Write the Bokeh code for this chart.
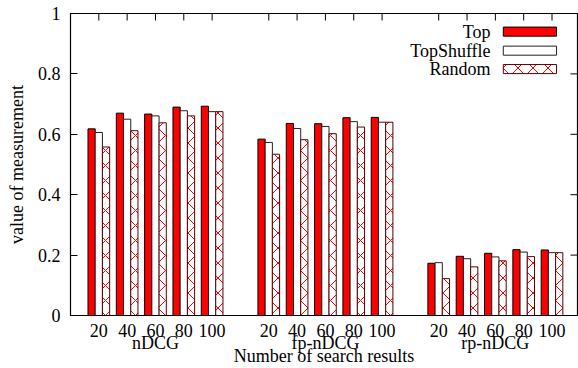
import math
from bokeh.plotting import figure
from bokeh.models import (LinearAxis, FixedTicker, CustomJSTickFormatter, Range1d,
                          ColumnDataSource)
from bokeh.transform import dodge
from bokeh.embed import file_html
from bokeh.resources import INLINE
from bokeh.core.properties import value

# ---------------- data ----------------
metrics = ["nDCG", "fp-nDCG", "rp-nDCG"]
n_results = ["20", "40", "60", "80", "100"]
series = ["Top", "TopShuffle", "Random"]

top = [0.618, 0.670, 0.667, 0.690, 0.693,
       0.584, 0.636, 0.635, 0.655, 0.656,
       0.173, 0.196, 0.206, 0.218, 0.217]
top_shuffle = [0.606, 0.650, 0.661, 0.678, 0.675,
               0.573, 0.619, 0.626, 0.642, 0.640,
               0.175, 0.188, 0.194, 0.210, 0.208]
random_vals = [0.558, 0.612, 0.638, 0.661, 0.675,
               0.534, 0.582, 0.602, 0.624, 0.640,
               0.122, 0.161, 0.181, 0.195, 0.208]

y_ticks = [0, 0.2, 0.4, 0.6, 0.8, 1]
x_title = "Number of search results"
y_title = "value of measurement"

# ---------------- layout helpers ----------------
FONT = "Liberation Serif"
FS = "18px"
group_gap = len(n_results) + 1
centers = [g * group_gap + i + 1 for g in range(len(metrics)) for i in range(len(n_results))]
tick_labels = [n for _ in metrics for n in n_results]
group_centers = [g * group_gap + (len(n_results) + 1) / 2 for g in range(len(metrics))]
bw = 0.255
X_END = 17.9
TICK = 7  # inward tick length in px

p = figure(width=578, height=368, output_backend="svg", toolbar_location=None,
           x_range=Range1d(0, X_END), y_range=Range1d(0, 1),
           min_border_left=70, min_border_right=1, min_border_top=13, min_border_bottom=53,
           y_axis_label=y_title)
p.grid.visible = False
p.outline_line_color = "black"
p.outline_line_width = 1.2
p.background_fill_color = "white"
p.border_fill_color = "white"

src = ColumnDataSource(dict(x=centers, top=top, shuffle=top_shuffle, rnd=random_vals))
p.vbar(x=dodge("x", -bw, range=p.x_range), top="top", width=bw, source=src,
       fill_color="#ff0000", line_color="black", line_width=1)
p.vbar(x=dodge("x", 0, range=p.x_range), top="shuffle", width=bw, source=src,
       fill_color="white", line_color="#222222", line_width=1)
p.vbar(x=dodge("x", bw, range=p.x_range), top="rnd", width=bw, source=src,
       fill_color="white", line_color="#5a0000", line_width=1,
       hatch_pattern="x", hatch_color="#ff0000", hatch_scale=15, hatch_weight=1)

# mirrored inward ticks on the top and right edges
p.ray(x=centers, y=[1] * len(centers), length=TICK, length_units="screen",
      angle=-math.pi / 2, line_color="black", line_width=1)
p.ray(x=[X_END] * len(y_ticks), y=y_ticks, length=TICK, length_units="screen",
      angle=math.pi, line_color="black", line_width=1)

# ---------------- legend (manual: text left, swatch right) ----------------
leg_y = [0.940, 0.877, 0.816]
leg_tx, leg_sx = 14.83, 16.22
leg_src = ColumnDataSource(dict(name=series, y=leg_y, x=[leg_tx] * 3))
p.text(x="x", y="y", text="name", source=leg_src, text_align="right",
       text_baseline="middle", text_font=value(FONT), text_font_size=FS, text_color="black")
sw_w, sw_h = 1.88, 0.03
p.rect(x=leg_sx, y=leg_y[0], width=sw_w, height=sw_h, fill_color="#ff0000", line_color="black")
p.rect(x=leg_sx, y=leg_y[1], width=sw_w, height=sw_h, fill_color="white", line_color="#222222")
p.rect(x=leg_sx, y=leg_y[2], width=sw_w, height=sw_h, fill_color="white", line_color="#5a0000",
       hatch_pattern="x", hatch_color="#ff0000", hatch_scale=15, hatch_weight=1)

# ---------------- axes ----------------
def lookup_formatter(pos, labs):
    return CustomJSTickFormatter(args=dict(pos=pos, labs=labs), code="""
        for (let i = 0; i < pos.length; i++) { if (Math.abs(pos[i] - tick) < 1e-6) return labs[i]; }
        return "";
    """)

xa = p.xaxis[0]
xa.ticker = FixedTicker(ticks=centers)
xa.formatter = lookup_formatter(centers, tick_labels)
xa.major_tick_in = 0
xa.major_tick_out = 0
xa.minor_tick_line_color = None
xa.major_label_standoff = 8
xa.axis_line_color = "black"
xa.major_label_text_font = FONT
xa.major_label_text_font_size = FS
xa.major_label_text_color = "black"

grp = LinearAxis(ticker=FixedTicker(ticks=group_centers),
                 formatter=lookup_formatter(group_centers, metrics),
                 axis_label=x_title)
grp.axis_line_color = None
grp.major_tick_line_color = None
grp.minor_tick_line_color = None
grp.major_tick_in = 0
grp.major_tick_out = 0
grp.major_label_standoff = -7
grp.axis_label_standoff = -10
grp.major_label_text_font = FONT
grp.major_label_text_font_size = FS
grp.major_label_text_color = "black"
grp.axis_label_text_font = FONT
grp.axis_label_text_font_size = FS
grp.axis_label_text_font_style = "normal"
grp.axis_label_text_color = "black"
p.add_layout(grp, "below")

ya = p.yaxis[0]
ya.ticker = FixedTicker(ticks=y_ticks)
ya.formatter = CustomJSTickFormatter(code="return String(Math.round(tick * 10) / 10);")
ya.major_tick_in = TICK
ya.major_tick_out = 0
ya.minor_tick_line_color = None
ya.major_label_standoff = 10
ya.axis_line_color = "black"
ya.major_label_text_font = FONT
ya.major_label_text_font_size = FS
ya.major_label_text_color = "black"
ya.axis_label_text_font = FONT
ya.axis_label_text_font_size = FS
ya.axis_label_text_font_style = "normal"
ya.axis_label_text_color = "black"
ya.axis_label_standoff = 8

open("out.html", "w").write(file_html(p, INLINE))
